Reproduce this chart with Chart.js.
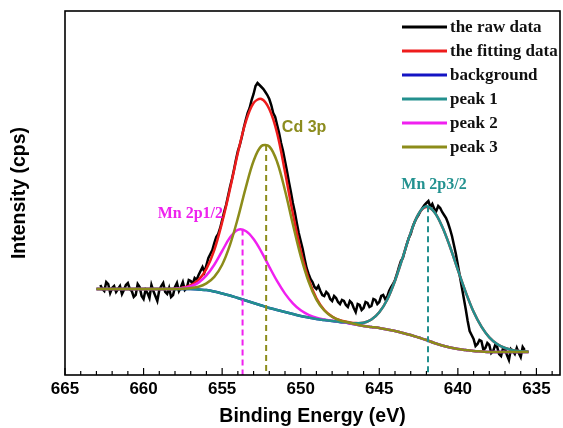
<!DOCTYPE html>
<html>
<head>
<meta charset="utf-8">
<script src="https://cdn.jsdelivr.net/npm/chart.js@4"></script>
<style>
  html, body { margin: 0; padding: 0; background: #fff; }
  #wrap { width: 563px; height: 428px; }
</style>
</head>
<body>
<div id="wrap"><canvas id="xps" width="563" height="428"></canvas></div>
<script>
// Binding energy grid for the fitted curves (eV)
const energy = [663, 662.5, 662, 661.5, 661, 660.5, 660, 659.5, 659, 658.5, 658, 657.5, 657, 656.5,
  656, 655.5, 655, 654.5, 654, 653.5, 653, 652.5, 652, 651.5, 651, 650.5, 650, 649.5, 649, 648.5,
  648, 647.5, 647, 646.5, 646, 645.5, 645, 644.5, 644, 643.5, 643, 642.5, 642, 641.5, 641, 640.5,
  640, 639.5, 639, 638.5, 638, 637.5, 637, 636.5, 636, 635.5];

const background = [86, 86, 86, 86, 86, 86, 86, 86, 86, 86, 86, 86, 86, 85.5,
  85, 83.5, 81.5, 79.5, 77, 74.5, 72, 69.5, 67, 65, 63, 61, 59, 57.5, 56, 55,
  54, 53, 52, 50.5, 49, 48, 47, 45.5, 44, 42, 40, 37.5, 35, 32, 29.5, 27.5,
  26, 25, 24, 23.5, 23, 23, 23, 23, 23, 23];

const peak1 = [86, 86, 86, 86, 86, 86, 86, 86, 86, 86, 86, 86, 86, 85.5,
  85, 83.5, 81.5, 79.5, 77, 74.5, 72, 69.5, 67, 65, 63, 61, 59, 57.5, 56, 55,
  54, 53.1, 52.4, 51.7, 52.2, 55.5, 62.8, 75.3, 94.3, 117.9, 142.4, 161.2, 168.7, 163, 148.5, 128.2,
  105.1, 82.8, 63.2, 48.3, 37.6, 30.9, 27, 24.9, 23.8, 23.3];

const peak2 = [86, 86, 86, 86, 86, 86, 86, 86, 86, 86, 86.3, 87, 88.8, 92.4,
  99.6, 110.3, 124, 137.4, 145.2, 144, 136, 123.2, 108.2, 93.8, 81.4, 71.7, 64.7, 60.2, 57.2, 55.5,
  54.2, 53, 52, 50.5, 49, 48, 47, 45.5, 44, 42, 40, 37.5, 35, 32, 29.5, 27.5,
  26, 25, 24, 23.5, 23, 23, 23, 23, 23, 23];

const peak3 = [86, 86, 86, 86, 86, 86, 86, 86, 86, 86, 86, 86.3, 87, 88.2,
  91.6, 98.1, 110.2, 130.1, 156.8, 187.1, 214, 229, 228.5, 213, 184.5, 150.8, 118.8, 93.4, 75.4, 64.5,
  58.2, 54.6, 52.6, 50.7, 49, 48, 47, 45.5, 44, 42, 40, 37.5, 35, 32, 29.5, 27.5,
  26, 25, 24, 23.5, 23, 23, 23, 23, 23, 23];

const fitCurve = [86, 86, 86, 86, 86, 86, 86, 86, 86, 86, 86.3, 87.3, 89.8, 95.1,
  106.2, 124.9, 152.7, 186, 222, 253, 272, 276, 266, 241.8, 202.9, 161.5, 124.5, 96.1, 76.6, 65,
  58.4, 54.7, 53, 51.9, 52.2, 55.5, 62.8, 75.3, 94.3, 117.9, 142.4, 161.2, 168, 163, 148.5, 128.2,
  105.1, 82.8, 63.2, 48.3, 37.6, 30.9, 27, 24.9, 23.8, 23.3];

// Measured spectrum, one value every 0.125 eV from 662.75 eV down to 635.75 eV
const rawStart = 662.75;
const rawStep = 0.125;
const rawCounts = [
  90, 86, 84, 93, 91, 82, 87, 89, 83, 86, 89, 81, 85, 90, 92, 86, 84, 78, 80, 91, 88, 79, 76, 85,
  82, 77, 90, 84, 79, 74, 85, 89, 92, 83, 81, 87, 78, 80, 88, 92, 84, 88, 93, 85, 87, 95, 94,
  91,
  97, 95, 100, 104, 108, 103, 110, 117, 121, 125, 132, 138, 141, 147, 155, 163, 170, 179, 188, 196,
  205, 215, 224, 230, 238, 247, 255, 262, 267, 275, 281, 289, 292, 290, 288, 286, 283, 280, 276,
  270,
  262, 258, 250, 242, 232, 224, 214, 204, 193, 183, 172, 163, 152, 142, 134, 126, 116, 107, 101, 96,
  93, 88, 86, 89, 84, 80, 79, 83, 81, 76, 74, 79, 77, 73, 71, 75, 74, 70, 68,
  74,
  72, 67, 63, 71, 70, 65, 67, 73, 72, 68, 69, 76, 75, 71, 73, 79, 80, 76, 78, 84,
  88, 91, 95, 101, 108, 114, 117, 124, 131, 137, 141, 148, 153, 157, 160, 164, 167, 170, 172,
  174,
  168, 171, 166, 164, 169, 167, 163, 160, 157, 152, 146, 139, 130, 121, 110, 99, 88, 77, 66, 54,
  44, 40, 36, 29, 31, 35, 34, 25, 27, 32, 30, 22, 24, 30, 28, 21, 19, 27, 26,
  20,
  15, 26, 24, 21, 27, 22, 18, 28, 25];
const rawEnergy = rawCounts.map((_, i) => rawStart - i * rawStep);

const xTicks = [665, 660, 655, 650, 645, 640, 635];

// Peak positions (eV) and heights for the dashed markers
const markerEnergy = [653.7, 652.2, 641.9];
const markerTop = [145.5, 230, 168.7];

const peakNotes = [
  { text: 'Cd 3p', e: 651.2, v: 247, color: '#8c8c1e', font: 'bold 16px "Liberation Sans", Arial, sans-serif' },
  { text: 'Mn 2p1/2', e: 659.1, v: 161, color: '#ee22ee', font: 'bold 16px "Liberation Serif", "Times New Roman", serif' },
  { text: 'Mn 2p3/2', e: 643.6, v: 190, color: '#239290', font: 'bold 16px "Liberation Serif", "Times New Roman", serif' }
];

const RED = '#ee1c1c';
const BLUE = '#1414c4';
const TEAL = '#23908e';
const MAGENTA = '#f020f0';
const OLIVE = '#8c8c1a';

const pts = (xs, ys) => xs.map((x, i) => ({ x: x, y: ys[i] }));

function marker(i, color) {
  return {
    label: '',
    data: [{ x: markerEnergy[i], y: markerTop[i] }, { x: markerEnergy[i], y: 0 }],
    borderColor: color,
    borderWidth: 2,
    borderDash: [6, 4],
    tension: 0,
    order: 0,
    noKey: true
  };
}

// Box, inward ticks, legend and peak labels
const decorations = {
  id: 'decorations',
  afterDatasetsDraw(chart) {
    const c = chart.ctx;
    const a = chart.chartArea;
    const xs = chart.scales.x;
    const ys = chart.scales.y;
    c.save();

    c.strokeStyle = '#000';
    c.lineWidth = 1.6;
    c.strokeRect(a.left, a.top, a.right - a.left, a.bottom - a.top);

    c.lineWidth = 1.2;
    for (let v = 634; v <= 665; v++) {
      const px = xs.getPixelForValue(v);
      const len = v % 5 === 0 ? 7 : 4;
      c.beginPath();
      c.moveTo(px, a.bottom);
      c.lineTo(px, a.bottom - len);
      c.stroke();
    }

    // legend in the top right corner
    const items = chart.data.datasets.filter(d => !d.noKey);
    c.font = 'bold 17px "Liberation Serif", "Times New Roman", serif';
    c.textBaseline = 'middle';
    c.textAlign = 'left';
    items.forEach((d, i) => {
      const y = 27 + i * 24;
      c.strokeStyle = d.borderColor;
      c.lineWidth = 3;
      c.beginPath();
      c.moveTo(402, y);
      c.lineTo(447, y);
      c.stroke();
      c.fillStyle = '#111';
      c.fillText(d.label, 450, y + 1);
    });

    peakNotes.forEach(n => {
      c.font = n.font;
      c.fillStyle = n.color;
      c.fillText(n.text, xs.getPixelForValue(n.e), ys.getPixelForValue(n.v));
    });
    c.restore();
  }
};

const tickFont = { family: '"Liberation Sans", Arial, sans-serif', size: 17, weight: 'bold' };
const titleFont = { family: '"Liberation Sans", Arial, sans-serif', size: 19.5, weight: 'bold' };

new Chart(document.getElementById('xps').getContext('2d'), {
  type: 'line',
  data: {
    datasets: [
      { label: 'the raw data', data: pts(rawEnergy, rawCounts), borderColor: '#000', borderWidth: 2.5, tension: 0, order: 6 },
      { label: 'the fitting data', data: pts(energy, fitCurve), borderColor: RED, borderWidth: 2.5, order: 4 },
      { label: 'background', data: pts(energy, background), borderColor: BLUE, borderWidth: 2.5, order: 5 },
      { label: 'peak 1', data: pts(energy, peak1), borderColor: TEAL, borderWidth: 2.5, order: 2 },
      { label: 'peak 2', data: pts(energy, peak2), borderColor: MAGENTA, borderWidth: 2.5, order: 3 },
      { label: 'peak 3', data: pts(energy, peak3), borderColor: OLIVE, borderWidth: 2.5, order: 1 },
      marker(0, MAGENTA),
      marker(1, OLIVE),
      marker(2, TEAL)
    ]
  },
  options: {
    responsive: false,
    animation: false,
    devicePixelRatio: 1,
    layout: { padding: { top: 11, right: 3, left: 0, bottom: 0 } },
    plugins: { legend: { display: false }, tooltip: { enabled: false } },
    elements: { point: { radius: 0 }, line: { fill: false, tension: 0.35 } },
    scales: {
      x: {
        type: 'linear',
        reverse: true,
        min: 633.5,
        max: 665,
        afterBuildTicks: s => { s.ticks = xTicks.map(v => ({ value: v })); },
        afterFit: s => { s.height = 53; },
        grid: { display: false, drawTicks: false },
        border: { display: false },
        ticks: { padding: 4, color: '#000', font: tickFont, maxRotation: 0, autoSkip: false, callback: v => String(v) },
        title: { display: true, text: 'Binding Energy (eV)', color: '#000', font: titleFont, padding: { top: 0, bottom: 0 } }
      },
      y: {
        min: 0,
        max: 364,
        afterFit: s => { s.width = 65; },
        grid: { display: false, drawTicks: false },
        border: { display: false },
        ticks: { display: false },
        title: { display: true, text: 'Intensity (cps)', color: '#000', font: titleFont, padding: { top: 8, bottom: 0 } }
      }
    }
  },
  plugins: [decorations]
});
</script>
</body>
</html>
